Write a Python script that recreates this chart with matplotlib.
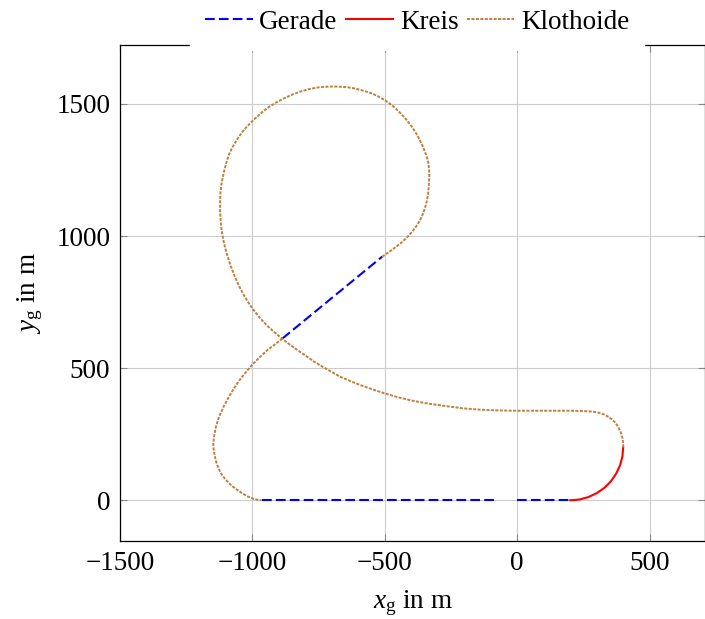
import matplotlib
matplotlib.use("Agg")
import matplotlib.pyplot as plt

plt.rcParams['font.family'] = ['Liberation Serif', 'DejaVu Serif']
plt.rcParams['mathtext.fontset'] = 'custom'
plt.rcParams['mathtext.rm'] = 'Liberation Serif'
plt.rcParams['mathtext.it'] = 'Liberation Serif:italic'
plt.rcParams['font.size'] = 19.5
plt.rcParams['lines.scale_dashes'] = False

# ---- data ----
gerade_1_x = [0, 200]
gerade_1_y = [0, 0]
gerade_2_x = [-965, -77]
gerade_2_y = [0, 0]
gerade_3_x = [-887, -510]
gerade_3_y = [612, 922]

kreis_x = [200, 235, 268, 300, 329, 353, 373, 388, 397, 400]
kreis_y = [0, 3, 12, 27, 47, 71, 100, 132, 165, 200]

klothoide_a_x = [400, 400, 398, 394, 388, 380, 370, 358, 344, 328, 310, 290, 268, 245,
                 200, 124, 0, -70, -140, -205, -265, -330, -391, -447, -498, -547,
                 -592, -630, -667, -703, -736, -766, -793, -819, -843, -868, -890,
                 -905, -919, -939, -957, -976, -994, -1007, -1019, -1036, -1051,
                 -1067, -1082, -1096, -1107, -1113, -1117, -1120, -1122, -1122,
                 -1121, -1118, -1113, -1107, -1099, -1089, -1077, -1063, -1048,
                 -1032, -1013, -994, -970, -944, -913, -881, -850, -818, -787, -755,
                 -724, -693, -666, -640, -616, -592, -568, -545, -522, -500, -480,
                 -459, -438, -420, -404, -390, -378, -367, -357, -348, -341, -336,
                 -333, -332, -334, -338, -344, -353, -364, -378, -396, -416, -441,
                 -466, -488, -510]
klothoide_a_y = [200, 215, 232, 248, 264, 280, 294, 306, 316, 325, 331, 335, 337, 338,
                 339, 339, 339, 340, 343, 348, 356, 365, 376, 389, 404, 420,
                 436, 451, 467, 487, 506, 524, 543, 561, 578, 596, 614,
                 626, 638, 656, 674, 695, 718, 736, 754, 783, 812,
                 848, 887, 930, 972, 1002, 1028, 1058, 1098, 1130,
                 1160, 1190, 1218, 1244, 1276, 1307, 1333, 1357, 1380,
                 1402, 1422, 1441, 1463, 1484, 1504, 1521, 1535, 1547, 1556, 1562,
                 1565, 1566, 1565, 1563, 1559, 1553, 1546, 1538, 1527, 1514, 1500,
                 1483, 1462, 1442, 1422, 1402, 1382, 1362, 1340, 1318, 1298, 1278,
                 1255, 1231, 1187, 1151, 1121, 1092, 1066, 1042, 1017, 995, 972,
                 953, 937, 922]

klothoide_b_x = [-887, -915, -944, -972, -1000, -1022, -1044, -1067, -1089, -1109,
                 -1126, -1138, -1145, -1148, -1147, -1145, -1141, -1136, -1130,
                 -1122, -1112, -1101, -1088, -1073, -1057, -1039, -1019, -1000,
                 -982, -965]
klothoide_b_y = [612, 590, 568, 542, 514, 488, 461, 428, 391, 354,
                 316, 278, 240, 215, 200, 185, 162, 143, 126,
                 108, 92, 78, 64, 51, 39, 27, 15, 7,
                 2, 0]

x_ticks = [-1500, -1000, -500, 0, 500]
y_ticks = [0, 500, 1000, 1500]

blue = '#0000ff'
red = '#ff0000'
brown = '#bf8040'

fig = plt.figure(figsize=(7.05, 6.19), dpi=100)
ax = fig.add_axes([120 / 705, (619 - 541) / 619, 585 / 705, 496 / 619])

dash = (7.0, 3.0)
ax.plot(gerade_1_x, gerade_1_y, color=blue, lw=1.5, dashes=dash, label='Gerade', zorder=3)
ax.plot(gerade_2_x, gerade_2_y, color=blue, lw=1.5, dashes=dash, zorder=3)
ax.plot(gerade_3_x, gerade_3_y, color=blue, lw=1.5, dashes=dash, zorder=3)
ax.plot(kreis_x, kreis_y, color=red, lw=1.5, label='Kreis', zorder=3)
dot = (2.2, 1.0)
ax.plot(klothoide_a_x, klothoide_a_y, color=brown, lw=1.4, dashes=dot, label='Klothoide', zorder=3)
ax.plot(klothoide_b_x, klothoide_b_y, color=brown, lw=1.4, dashes=dot, zorder=3)

ax.set_xlim(-1500, 709)
ax.set_ylim(-154, 1723)
ax.set_xticks(x_ticks)
ax.set_yticks(y_ticks)
ax.grid(True, color='#cccccc', lw=0.8)
ax.set_axisbelow(True)
ax.tick_params(direction='in', length=5, width=0.8, color='#888888',
               top=True, right=True, labelsize=19.5, pad=7)
for s in ax.spines.values():
    s.set_linewidth(0.9)

ax.set_xlabel(r'$x_\mathrm{g}$ in m', fontsize=19.5, labelpad=9)
ax.set_ylabel(r'$y_\mathrm{g}$ in m', fontsize=19.5, labelpad=8)

leg = ax.legend(loc='center', bbox_to_anchor=(0.508, 1.046), ncol=3, frameon=True,
                fancybox=False, edgecolor='white', facecolor='white', framealpha=1,
                handlelength=1.75, handletextpad=0.25, columnspacing=0.3,
                borderpad=0.55, borderaxespad=0, fontsize=19.5)
leg.set_zorder(10)

fig.savefig('out.png', dpi=100)
